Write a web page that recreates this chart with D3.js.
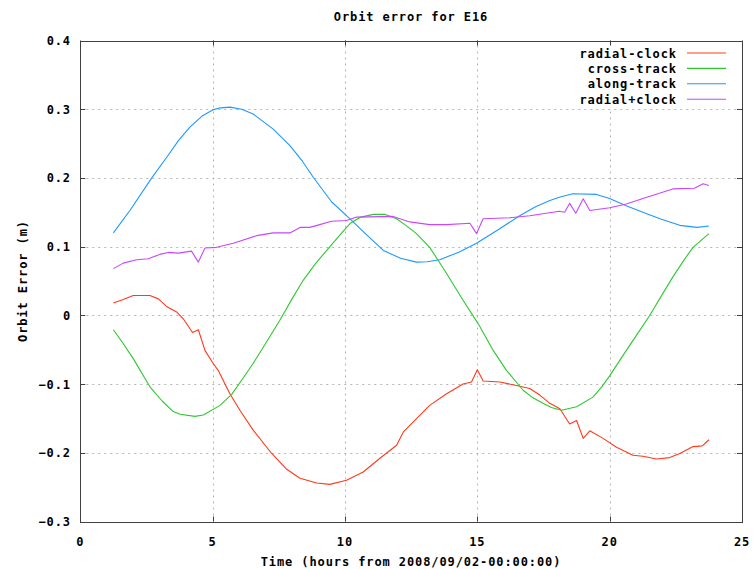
<!DOCTYPE html>
<html>
<head>
<meta charset="utf-8">
<script src="https://cdn.jsdelivr.net/npm/d3@7"></script>
<style>
  body { margin: 0; background: #fff; }
  text { font-family: "DejaVu Sans Mono", monospace; font-weight: bold; font-size: 12px; letter-spacing: 0.9px; fill: #000; }
</style>
</head>
<body>
<svg width="756" height="569"></svg>
<script>
// data: [hours, metres]
var radialClock = [[1.25,0.018],[1.62,0.023],[2.0,0.029],[2.63,0.029],[2.95,0.024],[3.26,0.013],[3.64,0.005],[3.89,-0.005],
  [4.24,-0.025],[4.46,-0.021],[4.71,-0.051],[5.02,-0.070],[5.21,-0.080],[5.65,-0.114],[6.03,-0.138],[6.53,-0.167],
  [7.23,-0.201],[7.8,-0.224],[8.3,-0.237],[8.93,-0.244],[9.43,-0.246],[10.06,-0.240],[10.69,-0.228],[11.32,-0.208],
  [11.95,-0.189],[12.2,-0.170],[12.45,-0.160],[13.2,-0.131],[13.84,-0.114],[14.46,-0.100],[14.78,-0.097],[15.0,-0.079],
  [15.22,-0.0955],[15.85,-0.097],[16.48,-0.102],[16.98,-0.1065],[17.36,-0.116],[17.74,-0.128],[18.12,-0.136],
  [18.49,-0.158],[18.75,-0.153],[19.0,-0.179],[19.25,-0.168],[19.75,-0.179],[20.26,-0.192],[20.88,-0.2035],
  [21.26,-0.205],[21.77,-0.209],[22.27,-0.207],[22.65,-0.201],[23.15,-0.191],[23.5,-0.190],[23.75,-0.181]];

var crossTrack = [[1.25,-0.021],[1.62,-0.041],[2.0,-0.063],[2.63,-0.104],[3.1,-0.125],[3.51,-0.140],[3.77,-0.144],
  [4.33,-0.147],[4.65,-0.145],[5.28,-0.131],[5.72,-0.115],[6.1,-0.094],[6.53,-0.070],[7.0,-0.041],[7.54,-0.007],
  [8.0,0.024],[8.42,0.051],[8.9,0.076],[9.43,0.100],[10.06,0.128],[10.2,0.134],[10.6,0.143],[11.07,0.147],
  [11.5,0.147],[11.95,0.1405],[12.3,0.131],[12.7,0.119],[13.2,0.099],[13.84,0.061],[14.46,0.022],[15.03,-0.012],
  [15.6,-0.051],[16.1,-0.080],[16.73,-0.109],[17.1,-0.120],[17.48,-0.128],[17.8,-0.134],[18.18,-0.138],
  [18.75,-0.133],[19.37,-0.119],[19.7,-0.104],[20.0,-0.088],[20.63,-0.051],[21.1,-0.024],[21.5,-0.001],
  [21.95,0.028],[22.39,0.056],[22.8,0.080],[23.15,0.099],[23.75,0.119]];

var alongTrack = [[1.25,0.120],[1.88,0.153],[2.7,0.200],[3.32,0.233],[3.7,0.254],[4.14,0.274],[4.6,0.290],
  [5.0,0.299],[5.3,0.302],[5.65,0.303],[6.1,0.300],[6.53,0.293],[7.29,0.271],[7.92,0.247],[8.4,0.224],[8.8,0.201],
  [9.5,0.165],[10.15,0.142],[10.8,0.118],[11.45,0.0945],[12.1,0.083],[12.7,0.0775],[13.1,0.078],[13.58,0.081],
  [14.3,0.092],[14.97,0.105],[15.8,0.125],[16.6,0.145],[17.2,0.158],[17.74,0.167],[18.1,0.172],[18.6,0.177],
  [19.5,0.176],[20.0,0.170],[20.6,0.160],[21.4,0.148],[21.9,0.1405],[22.65,0.131],[23.3,0.128],[23.75,0.130]];

var radialPlusClock = [[1.25,0.068],[1.62,0.076],[2.13,0.081],[2.57,0.0824],[3.0,0.0887],[3.32,0.0916],[3.7,0.0906],
  [4.2,0.0935],[4.46,0.0775],[4.71,0.098],[5.15,0.099],[5.78,0.105],[6.66,0.116],[7.29,0.120],[7.92,0.120],
  [8.3,0.128],[8.67,0.128],[9.05,0.132],[9.49,0.137],[10.06,0.138],[10.44,0.143],[11.82,0.144],[12.45,0.136],
  [13.2,0.132],[13.84,0.132],[14.72,0.134],[14.97,0.119],[15.22,0.1405],[16.23,0.142],[16.98,0.145],[18.1,0.1516],
  [18.3,0.150],[18.49,0.163],[18.72,0.1487],[19.0,0.1696],[19.25,0.1526],[20.0,0.1565],[20.63,0.162],[21.4,0.172],
  [22.39,0.184],[23.2,0.185],[23.53,0.1914],[23.75,0.189]];

var seriesNames = ["radial-clock", "cross-track", "along-track", "radial+clock"];
var seriesColors = ["#ff3a1a", "#2ec82e", "#1e98ff", "#c846ff"];
var seriesData = [radialClock, crossTrack, alongTrack, radialPlusClock];

var xTicks = [0, 5, 10, 15, 20, 25];
var yTicks = [-0.3, -0.2, -0.1, 0, 0.1, 0.2, 0.3, 0.4];

var svg = d3.select("svg"),
    margin = {top: 40.5, right: 14, bottom: 47.5, left: 80.3},
    width = +svg.attr("width") - margin.left - margin.right,
    height = +svg.attr("height") - margin.top - margin.bottom;

var x = d3.scaleLinear().domain([0, 25]).range([margin.left, margin.left + width]);
var y = d3.scaleLinear().domain([-0.3, 0.4]).range([margin.top + height, margin.top]);

var fmtY = function(d) { return d === 0 ? "0" : d3.format(".1f")(d); };

// grid
var grid = svg.append("g").attr("stroke", "#b4b4b4").attr("stroke-dasharray", "2,4");
grid.selectAll(".gx").data(xTicks.slice(1, -1)).enter().append("line")
    .attr("x1", d => Math.round(x(d)) + 0.5).attr("x2", d => Math.round(x(d)) + 0.5)
    .attr("y1", y(-0.3)).attr("y2", y(0.4));
grid.selectAll(".gy").data(yTicks.slice(1, -1)).enter().append("line")
    .attr("y1", d => Math.round(y(d)) + 0.5).attr("y2", d => Math.round(y(d)) + 0.5)
    .attr("x1", x(0)).attr("x2", x(25));

// keep the key area clear of grid, as gnuplot does
svg.append("rect").attr("x", 568).attr("y", y(0.4) + 1).attr("width", x(25) - 569).attr("height", 66).attr("fill", "#fff");

// frame with inward ticks on all four sides
var frame = svg.append("g").attr("stroke", "#404040").attr("fill", "none");
frame.append("rect").attr("x", Math.round(x(0)) + 0.5).attr("y", Math.round(y(0.4)) + 0.5)
    .attr("width", Math.round(x(25)) - Math.round(x(0))).attr("height", Math.round(y(-0.3)) - Math.round(y(0.4)));
xTicks.forEach(function(d) {
  var px = Math.round(x(d)) + 0.5;
  frame.append("line").attr("x1", px).attr("x2", px).attr("y1", y(-0.3)).attr("y2", y(-0.3) - 5);
  frame.append("line").attr("x1", px).attr("x2", px).attr("y1", y(0.4)).attr("y2", y(0.4) + 5);
});
yTicks.forEach(function(d) {
  var py = Math.round(y(d)) + 0.5;
  frame.append("line").attr("y1", py).attr("y2", py).attr("x1", x(0)).attr("x2", x(0) + 5);
  frame.append("line").attr("y1", py).attr("y2", py).attr("x1", x(25)).attr("x2", x(25) - 5);
});

// tick labels
svg.append("g").selectAll("text").data(xTicks).enter().append("text")
    .attr("x", d => x(d)).attr("y", 546).attr("text-anchor", "middle").text(d => d);
svg.append("g").selectAll("text").data(yTicks).enter().append("text")
    .attr("x", 71).attr("y", d => y(d) + 4.5).attr("text-anchor", "end").text(fmtY);

// titles
svg.append("text").attr("x", 411).attr("y", 21).attr("text-anchor", "middle").text("Orbit error for E16");
svg.append("text").attr("x", 411).attr("y", 566).attr("text-anchor", "middle").text("Time (hours from 2008/09/02-00:00:00)");
svg.append("text").attr("transform", "translate(27," + (margin.top + height / 2) + ") rotate(-90)")
    .attr("text-anchor", "middle").text("Orbit Error (m)");

// lines
var line = d3.line().x(d => x(d[0])).y(d => y(d[1]));
svg.append("g").selectAll("path").data(seriesData).enter().append("path")
    .attr("d", line).attr("fill", "none").attr("stroke-linejoin", "round")
    .attr("stroke", (d, i) => seriesColors[i]).attr("stroke-width", 1.1);

// key
var key = svg.append("g").selectAll("g").data(seriesNames).enter().append("g")
    .attr("transform", (d, i) => "translate(0," + (53 + i * 15.4) + ")");
key.append("text").attr("x", 677).attr("y", 4.5).attr("text-anchor", "end").text(d => d);
key.append("line").attr("x1", 687).attr("x2", 726).attr("y1", 0).attr("y2", 0)
    .attr("stroke", (d, i) => seriesColors[i]).attr("stroke-width", 1.1);
</script>
</body>
</html>
